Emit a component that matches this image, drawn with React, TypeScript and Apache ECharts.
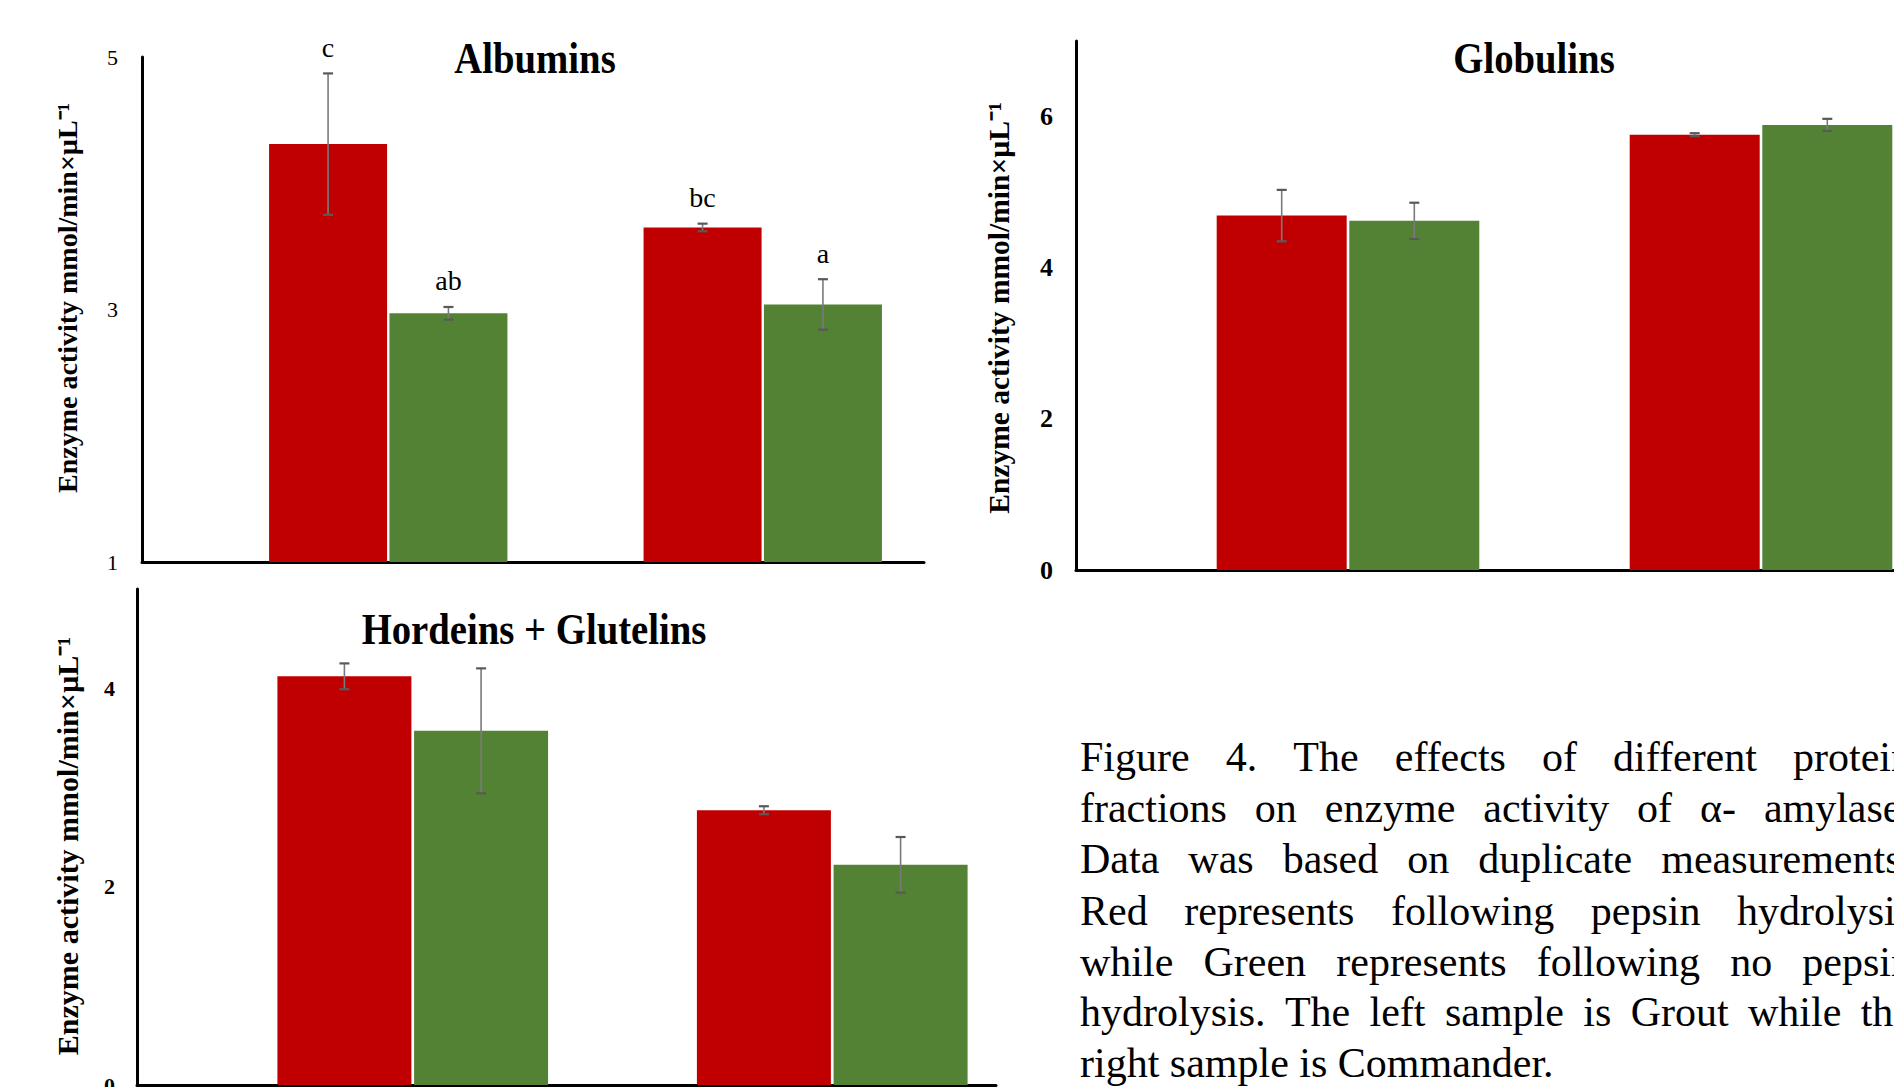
import React, { useEffect, useRef } from "react";
import * as echarts from "echarts";

// ---------- data ----------
const samples = ["Grout", "Commander"];

const albuminsPepsin = [4.31, 3.65];
const albuminsPepsinErr = [0.56, 0.03];
const albuminsNoPepsin = [2.97, 3.04];
const albuminsNoPepsinErr = [0.05, 0.2];
const albuminsPepsinLetters = ["c", "bc"];
const albuminsNoPepsinLetters = ["ab", "a"];

const globulinsPepsin = [4.69, 5.76];
const globulinsPepsinErr = [0.34, 0.02];
const globulinsNoPepsin = [4.62, 5.89];
const globulinsNoPepsinErr = [0.24, 0.08];

const hordeinsPepsin = [4.12, 2.77];
const hordeinsPepsinErr = [0.13, 0.04];
const hordeinsNoPepsin = [3.57, 2.22];
const hordeinsNoPepsinErr = [0.63, 0.28];

const albuminsTicks = [1, 3, 5];
const globulinsTicks = [0, 2, 4, 6];
const hordeinsTicks = [0, 2, 4];

const titles = ["Albumins", "Globulins", "Hordeins + Glutelins"];
const yName = "Enzyme activity mmol/min×µL⁻¹";

const captionLines = [
  "Figure 4. The effects of different protein",
  "fractions on enzyme activity of α- amylase.",
  "Data was based on duplicate measurements.",
  "Red represents following pepsin hydrolysis",
  "while Green represents following no pepsin",
  "hydrolysis. The left sample is Grout while the",
  "right sample is Commander.",
];

// ---------- styles / layout ----------
const RED = "#C00000";
const GREEN = "#548235";
const SERIF = "'Liberation Serif', 'Times New Roman', serif";

const panels = [
  {
    title: titles[0], titleX: 535, titleY: 58,
    axes: { left: 142, top: 57, width: 782, height: 505 },
    bars: { left: 201, top: 57, width: 749, height: 505 },
    edgeBars: false, clip: true,
    barWidth: 118,
    ticks: albuminsTicks, max: 5,
    labelBold: false, labelSize: 22, labelMargin: 24,
    nameX: 67, nameY: 298, nameSize: 28,
    red: albuminsPepsin, redErr: albuminsPepsinErr, redLetters: albuminsPepsinLetters,
    green: albuminsNoPepsin, greenErr: albuminsNoPepsinErr, greenLetters: albuminsNoPepsinLetters,
  },
  {
    title: titles[1], titleX: 1534, titleY: 58,
    axes: { left: 1076, top: 41, width: 818, height: 529 },
    bars: { left: 1348, top: 41, width: 413, height: 529 },
    edgeBars: true, clip: false,
    barWidth: 130,
    ticks: globulinsTicks, max: 7,
    labelBold: true, labelSize: 26, labelMargin: 23,
    nameX: 999, nameY: 308, nameSize: 29.5,
    red: globulinsPepsin, redErr: globulinsPepsinErr, redLetters: null,
    green: globulinsNoPepsin, greenErr: globulinsNoPepsinErr, greenLetters: null,
  },
  {
    title: titles[2], titleX: 534, titleY: 629,
    axes: { left: 137, top: 589, width: 859, height: 496 },
    bars: { left: 203, top: 589, width: 839, height: 496 },
    edgeBars: false, clip: true,
    barWidth: 134,
    ticks: hordeinsTicks, max: 5,
    labelBold: true, labelSize: 22, labelMargin: 22,
    nameX: 67, nameY: 846, nameSize: 30,
    red: hordeinsPepsin, redErr: hordeinsPepsinErr, redLetters: null,
    green: hordeinsNoPepsin, greenErr: hordeinsNoPepsinErr, greenLetters: null,
  },
];

const BAR_GAP = 0.02;

function errorSeries(axisIdx: number, means: number[], errs: number[], letters: string[] | null, side: number, bw: number) {
  const gapPx = bw * BAR_GAP;
  return {
    type: "custom",
    xAxisIndex: axisIdx,
    yAxisIndex: axisIdx,
    z: 5,
    clip: false,
    data: means.map((m, i) => [i, m, errs[i]]),
    renderItem: (params: any, api: any) => {
      const i = api.value(0);
      const m = api.value(1);
      const e = api.value(2);
      const c = api.coord([i, m]);
      const cx = c[0] + side * (bw + gapPx) / 2;
      const top = api.coord([i, m + e])[1];
      const bot = api.coord([i, m - e])[1];
      const children: any[] = [
        { type: "line", shape: { x1: cx, y1: top, x2: cx, y2: bot }, style: { stroke: "#7a7a7a", lineWidth: 1.6 } },
        { type: "line", shape: { x1: cx - 5, y1: top, x2: cx + 5, y2: top }, style: { stroke: "#595959", lineWidth: 2.2 } },
        { type: "line", shape: { x1: cx - 5, y1: bot, x2: cx + 5, y2: bot }, style: { stroke: "#595959", lineWidth: 2.2 } },
      ];
      const label = letters ? letters[params.dataIndex] : "";
      if (label) {
        children.push({
          type: "text",
          x: cx,
          y: top - 26,
          style: {
            text: label, fill: "#000", fontSize: 28, fontFamily: SERIF,
            align: "center", verticalAlign: "middle",
          },
        });
      }
      return { type: "group", children };
    },
  };
}

function buildCaption(): any[] {
  const size = 42;
  const left = 1080;
  const right = 1912;
  const ys = [757, 808, 859, 911, 962, 1012, 1063];
  const canvas = document.createElement("canvas");
  const ctx = canvas.getContext("2d") as CanvasRenderingContext2D;
  ctx.font = `${size}px "Liberation Serif"`;
  const els: any[] = [];
  captionLines.forEach((line, li) => {
    const isLast = li === captionLines.length - 1;
    const words = line.split(" ").filter((w) => w.length > 0);
    const widths = words.map((w) => ctx.measureText(w).width);
    const spaceW = ctx.measureText(" ").width;
    const total = widths.reduce((a, b) => a + b, 0);
    const gaps = Math.max(1, words.length - 1);
    const unit = isLast ? spaceW : (right - left - total) / gaps;
    let x = left;
    words.forEach((w, i) => {
      if (i > 0) x += unit;
      els.push({
        type: "text", x, y: ys[li], silent: true,
        style: { text: w, fill: "#000", fontSize: size, fontFamily: SERIF, align: "left", verticalAlign: "middle" },
      });
      x += widths[i];
    });
  });
  return els;
}

export default function App() {
  const ref = useRef<HTMLDivElement>(null);
  useEffect(() => {
    if (!ref.current) return;
    const chart = echarts.init(ref.current, undefined, { renderer: "svg" });
    const grid: any[] = [];
    const xAxis: any[] = [];
    const yAxis: any[] = [];
    const series: any[] = [];
    const graphic: any[] = [];

    panels.forEach((p, pi) => {
      const a = pi * 2;
      const b = pi * 2 + 1;
      grid.push({ ...p.axes, containLabel: false, outerBoundsMode: "none" });
      grid.push({ ...p.bars, containLabel: false, outerBoundsMode: "none" });
      const interval = p.ticks[1] - p.ticks[0];
      // visible axes
      xAxis.push({
        type: "category", gridIndex: a, data: samples,
        axisLine: { show: true, onZero: false, lineStyle: { color: "#000", width: 3 } },
        axisTick: { show: false }, axisLabel: { show: false }, splitLine: { show: false },
      });
      yAxis.push({
        type: "value", gridIndex: a, min: p.ticks[0], max: p.max, interval,
        axisLine: { show: true, lineStyle: { color: "#000", width: 3 } },
        axisTick: { show: false }, splitLine: { show: false },
        axisLabel: {
          color: "#000", fontFamily: SERIF, fontSize: p.labelSize,
          fontWeight: p.labelBold ? "bold" : "normal", margin: p.labelMargin,
          formatter: (v: number) => (p.ticks.indexOf(v) >= 0 ? String(v) : ""),
        },
      });
      // bar layout axes (hidden, same scale)
      xAxis.push({ type: "category", gridIndex: b, data: samples, show: false, boundaryGap: !p.edgeBars });
      yAxis.push({ type: "value", gridIndex: b, min: p.ticks[0], max: p.max, show: false, splitLine: { show: false } });

      series.push({
        type: "bar", name: "Pepsin", xAxisIndex: b, yAxisIndex: b, data: p.red,
        barWidth: p.barWidth, barGap: `${BAR_GAP * 100}%`, clip: p.clip,
        itemStyle: { color: RED }, z: 2,
      });
      series.push({
        type: "bar", name: "No pepsin", xAxisIndex: b, yAxisIndex: b, data: p.green,
        barWidth: p.barWidth, barGap: `${BAR_GAP * 100}%`, clip: p.clip,
        itemStyle: { color: GREEN }, z: 2,
      });
      series.push(errorSeries(b, p.red, p.redErr, p.redLetters, -1, p.barWidth));
      series.push(errorSeries(b, p.green, p.greenErr, p.greenLetters, 1, p.barWidth));

      graphic.push({
        type: "text", x: p.titleX, y: p.titleY, scaleX: 0.88, silent: true,
        style: {
          text: p.title, fill: "#000", fontSize: 44, fontWeight: "bold", fontFamily: SERIF,
          align: "center", verticalAlign: "middle",
        },
      });
      graphic.push({
        type: "text", x: p.nameX, y: p.nameY, rotation: Math.PI / 2, silent: true,
        style: {
          text: yName, fill: "#000", fontSize: p.nameSize, fontWeight: "bold", fontFamily: SERIF,
          align: "center", verticalAlign: "middle",
        },
      });
    });

    graphic.push(...buildCaption());

    chart.setOption({
      animation: false,
      backgroundColor: "#fff",
      grid, xAxis, yAxis, series, graphic,
    });
    return () => chart.dispose();
  }, []);
  return <div ref={ref} style={{ position: "fixed", left: 0, top: 0, width: 1894, height: 1087 }} />;
}
